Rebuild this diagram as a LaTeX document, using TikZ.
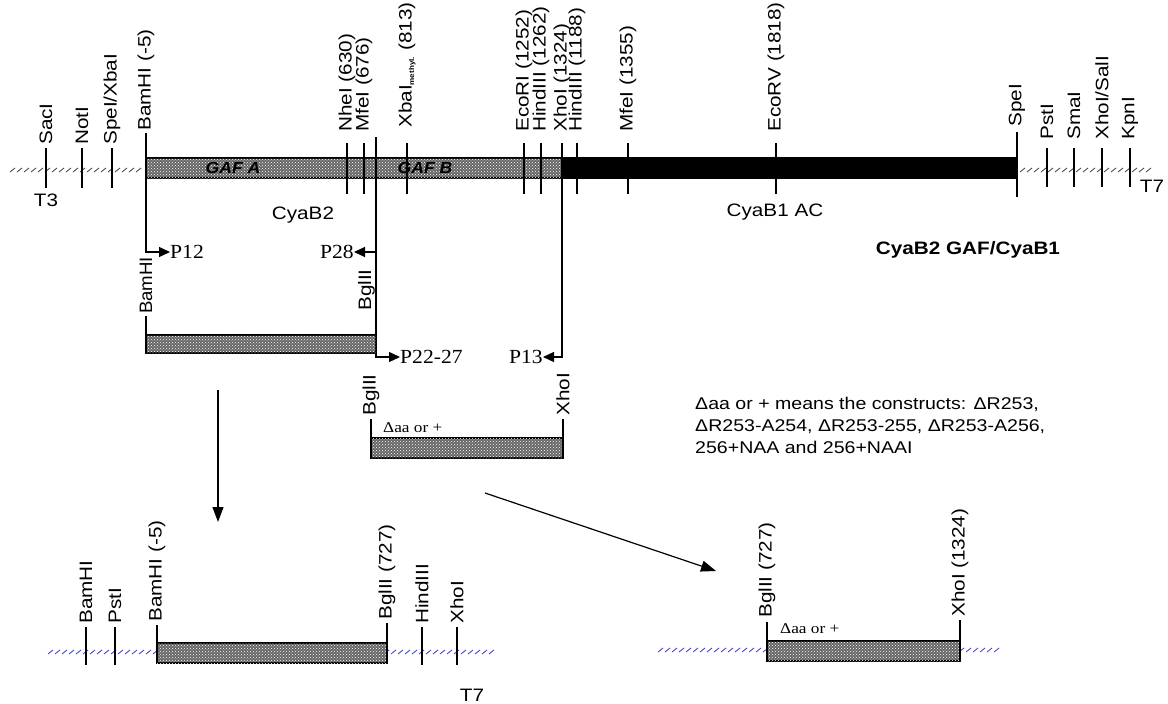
\documentclass[tikz,border=0pt]{standalone}
\usepackage{fontspec}
\newfontfamily\arialf{Liberation Sans}
\newfontfamily\timesf{Liberation Serif}
\usetikzlibrary{arrows.meta,patterns}

\begin{document}
\begin{tikzpicture}[x=1pt, y=-1pt,
      lbl/.style={font=\arialf\fontsize{18}{22}\selectfont, inner sep=0pt, xscale=1.15},
      site/.style={rotate=90, lbl, anchor=west},
      primer/.style={font=\timesf\fontsize{20}{22}\selectfont, inner sep=0pt, xscale=1.08},
      small/.style={font=\timesf\fontsize{15}{16}\selectfont, inner sep=0pt, xscale=1.15},
      gaf/.style={font=\arialf\bfseries\itshape\fontsize{16}{16}\selectfont, inner sep=0pt, xscale=1.1},
      tick/.style={line width=1.2pt},
      hatch/.style={line width=0.8pt, black!75},
      bhatch/.style={line width=0.8pt, blue!55!gray},
      gafbar/.style={draw=black, line width=1.2pt, fill=black!60, postaction={pattern=crosshatch dots, pattern color=white}},
      acbar/.style={draw=black, line width=1.2pt, fill=black},
      parrow/.style={-{Triangle[length=11pt,width=10pt]}, line width=1.2pt},
      bigarrow/.style={-{Triangle[length=15pt,width=11pt]}, line width=1.2pt}
  ]
      \useasboundingbox (0,0) rectangle (1168,704);

      % vector ends
      \foreach \x in {10,17,...,140} \draw[hatch] (\x,172) -- ++(5,-4);
      \foreach \x in {1020,1027,...,1148} \draw[hatch] (\x,172) -- ++(5,-4);

      % CyaB2 GAF part and CyaB1 AC part
      \draw[gafbar] (146,158) rectangle (562,178);
      \draw[acbar] (562,158) rectangle (1017,178);
      \node[gaf] (gafa) at (233,168) {GAF A};
      \node[gaf] (gafb) at (425,168) {GAF B};

      % sites
      \foreach \x/\lab in {46/SacI, 82/NotI, 112/{SpeI/XbaI}} {
          \draw[tick] (\x,148) -- (\x,188);
          \node[site] (v\x) at (\x,145) {\lab};
      }
      \foreach \x/\lab in {347/NheI (630), 364/MfeI (676), 524/EcoRI (1252), 541/HindIII (1262), 577/HindIII (1188), 628/MfeI (1355), 776/EcoRV (1818)} {
          \draw[tick] (\x,143) -- (\x,194);
          \node[site] (s\x) at (\x,132) {\lab};
      }
      \draw[tick] (407,143) -- (407,194);
      \node[site] (xba) at (407,128) {XbaI\textsubscript{\fontsize{7}{7}\selectfont\bfseries methyl.} (813)};
      \draw[tick] (1017,132) -- (1017,197);
      \node[site] (spe) at (1017,127) {SpeI};
      \foreach \x/\lab in {1047/PstI, 1074/SmaI, 1102/{XhoI/SalI}, 1130/KpnI} {
          \draw[tick] (\x,148) -- (\x,187);
          \node[site] (r\x) at (\x,140) {\lab};
      }
      \node[site] (bam) at (146,131) {BamHI (-5)};
      \node[site] (xho) at (562,132) {XhoI (1324)};

      \node[lbl] (t3) at (46,200) {T3};
      \node[lbl] (t7) at (1152,186) {T7};
      \node[lbl] (cyab2) at (303,215) {CyaB2};
      \node[lbl] (cyab1) at (775,212) {CyaB1 AC};
      \node[lbl, font=\arialf\bfseries\fontsize{18}{20}\selectfont] (title) at (968,250) {CyaB2 GAF/CyaB1};

      % primers
      \coordinate (bamtop) at (146,133);
      \coordinate (bgltop) at (376,137);
      \coordinate (bglmid) at (376,252);
      \coordinate (xhotop) at (562,143);
      \node[primer, anchor=west] (p12) at (170,252) {P12};
      \node[primer, anchor=east] (p28) at (354,252) {P28};
      \node[primer, anchor=west] (p2227) at (400,357) {P22-27};
      \node[primer, anchor=east] (p13) at (543,357) {P13};
      \draw[parrow] (bamtop) |- (p12.west);
      \draw[parrow] (bglmid) -- (p28.east);
      \draw[parrow] (bgltop) |- (p2227.west);
      \draw[parrow] (xhotop) |- (p13.east);

      % PCR fragment BamHI-BglII
      \draw[gafbar] (146,335) rectangle (376,353);
      \draw[tick] (146,316) -- (146,353);
      \node[site, xscale=0.9] (fbam) at (146,314) {BamHI};
      \node[site, anchor=south west] (fbgl) at (375,311) {BglII};

      % PCR fragment BglII-XhoI
      \draw[gafbar] (371,438) rectangle (563,458);
      \draw[tick] (371,419) -- (371,458);
      \draw[tick] (563,419) -- (563,458);
      \node[site] (mbgl) at (371,416) {BglII};
      \node[site] (mxho) at (563,416) {XhoI};
      \node[small, anchor=west] (maa) at (383,428) {Δaa or +};
      \node[lbl, font=\arialf\fontsize{17}{22}\selectfont, anchor=north west, align=left] (note) at (695,397) {Δaa or + means the constructs: ΔR253,\\ΔR253-A254, ΔR253-255, ΔR253-A256,\\256+NAA and 256+NAAI};

      % cloning steps
      \coordinate (d1) at (218,390);
      \coordinate (d2) at (218,522);
      \coordinate (g1) at (485,493);
      \coordinate (g2) at (716,571);
      \draw[bigarrow] (d1) -- (d2);
      \draw[bigarrow] (g1) -- (g2);

      % construct 1
      \foreach \x in {48,55,...,495} \draw[bhatch] (\x,654) -- ++(5,-4);
      \draw[gafbar] (157,643) rectangle (387,663);
      \foreach \x/\lab in {86/BamHI, 115/PstI, 422/HindIII, 457/XhoI} {
          \draw[tick] (\x,627) -- (\x,665);
          \node[site] (b\x) at (\x,624) {\lab};
      }
      \draw[tick] (157,625) -- (157,663);
      \draw[tick] (387,623) -- (387,663);
      \node[site] (bbam) at (157,622) {BamHI (-5)};
      \node[site] (bbgl) at (387,620) {BglII (727)};
      \node[lbl] (t7b) at (472,695) {T7};

      % construct 2
      \foreach \x in {658,665,...,1000} \draw[bhatch] (\x,652) -- ++(5,-4);
      \draw[gafbar] (767,641) rectangle (960,661);
      \draw[tick] (767,622) -- (767,661);
      \draw[tick] (960,620) -- (960,661);
      \node[site] (cbgl) at (767,618) {BglII (727)};
      \node[site] (cxho) at (960,617) {XhoI (1324)};
      \node[small, anchor=west] (caa) at (780,629) {Δaa or +};
  \end{tikzpicture}
\end{document}
